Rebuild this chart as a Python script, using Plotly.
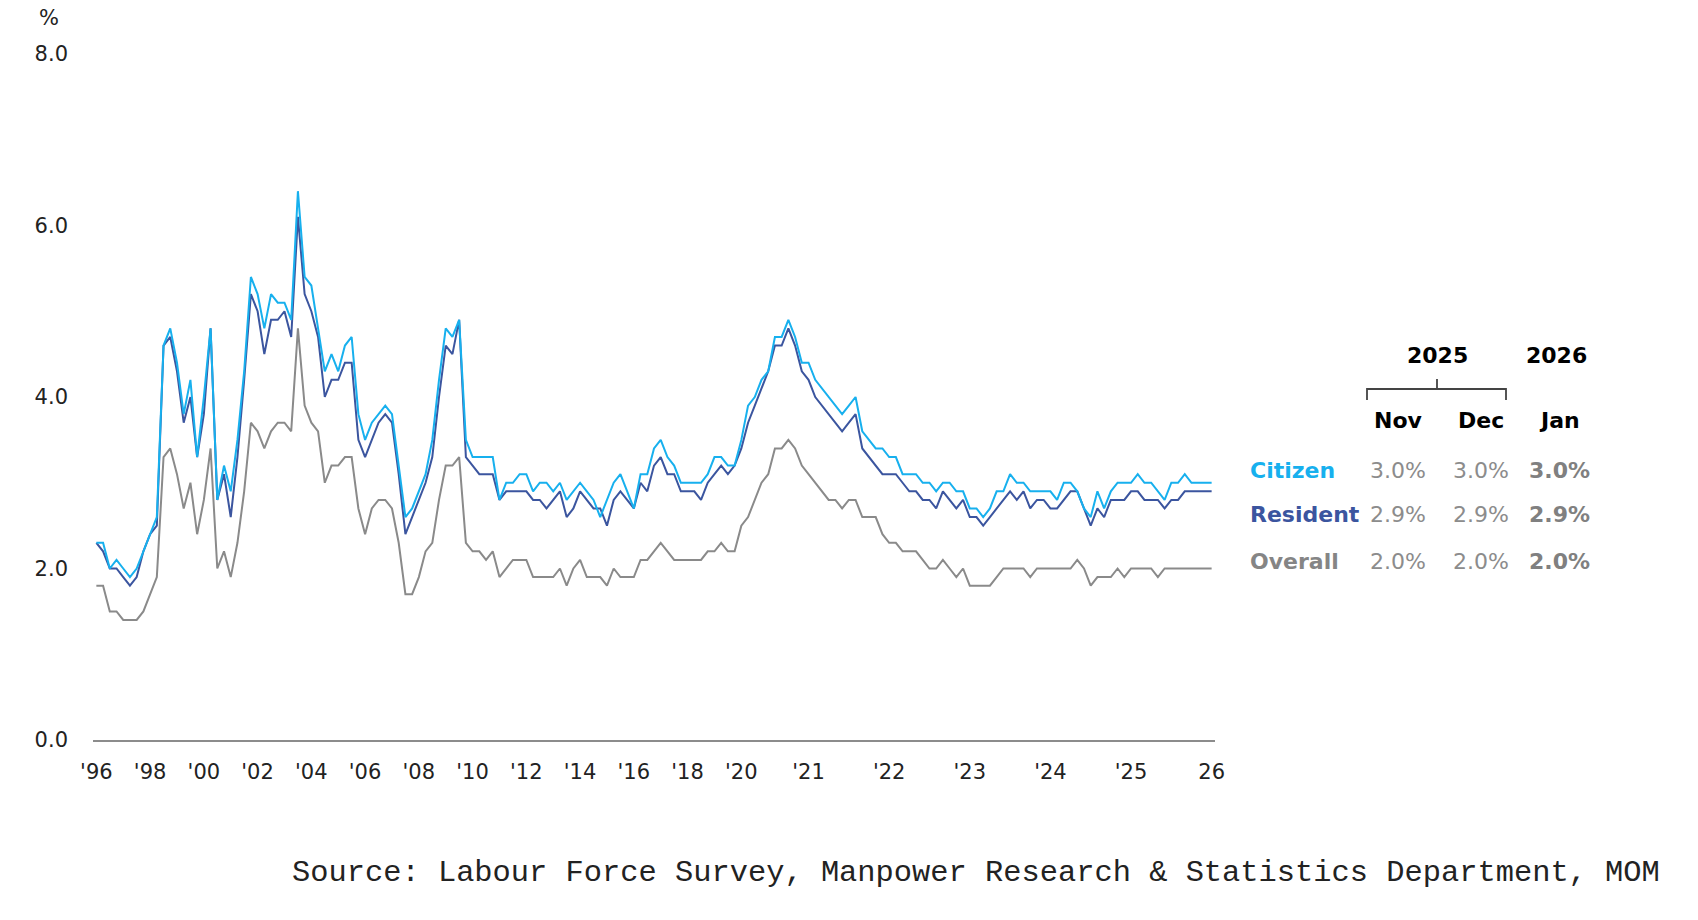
import plotly.graph_objects as go

# ---------------- data ----------------
quarters = [f"{y}Q{q}" for y in range(1996, 2021) for q in range(1, 5)][:97]   # 1996Q1 .. 2020Q1
all_months = [f"{y}-{m:02d}" for y in range(2020, 2027) for m in range(1, 13)]
months = all_months[all_months.index("2020-04"):all_months.index("2026-01") + 1]  # Apr 2020 .. Jan 2026
periods = quarters + months

citizen = [2.3, 2.3, 2.0, 2.1, 2.0, 1.9, 2.0, 2.2, 2.4, 2.6,
           4.6, 4.8, 4.4, 3.8, 4.2, 3.3, 4.0, 4.8, 2.8, 3.2,
           2.9, 3.5, 4.3, 5.4, 5.2, 4.8, 5.2, 5.1, 5.1, 4.9,
           6.4, 5.4, 5.3, 4.8, 4.3, 4.5, 4.3, 4.6, 4.7, 3.8,
           3.5, 3.7, 3.8, 3.9, 3.8, 3.2, 2.6, 2.7, 2.9, 3.1,
           3.5, 4.2, 4.8, 4.7, 4.9, 3.5, 3.3, 3.3, 3.3, 3.3,
           2.8, 3.0, 3.0, 3.1, 3.1, 2.9, 3.0, 3.0, 2.9, 3.0,
           2.8, 2.9, 3.0, 2.9, 2.8, 2.6, 2.8, 3.0, 3.1, 2.9,
           2.7, 3.1, 3.1, 3.4, 3.5, 3.3, 3.2, 3.0, 3.0, 3.0,
           3.0, 3.1, 3.3, 3.3, 3.2, 3.2, 3.5, 3.9, 4.0, 4.2,
           4.3, 4.7, 4.7, 4.9, 4.7, 4.4, 4.4, 4.2, 4.1, 4.0,
           3.9, 3.8, 3.9, 4.0, 3.6, 3.5, 3.4, 3.4, 3.3, 3.3,
           3.1, 3.1, 3.1, 3.0, 3.0, 2.9, 3.0, 3.0, 2.9, 2.9,
           2.7, 2.7, 2.6, 2.7, 2.9, 2.9, 3.1, 3.0, 3.0, 2.9,
           2.9, 2.9, 2.9, 2.8, 3.0, 3.0, 2.9, 2.7, 2.6, 2.9,
           2.7, 2.9, 3.0, 3.0, 3.0, 3.1, 3.0, 3.0, 2.9, 2.8,
           3.0, 3.0, 3.1, 3.0, 3.0, 3.0, 3.0]

resident = [2.3, 2.2, 2.0, 2.0, 1.9, 1.8, 1.9, 2.2, 2.4, 2.5,
            4.6, 4.7, 4.3, 3.7, 4.0, 3.3, 3.8, 4.8, 2.8, 3.1,
            2.6, 3.3, 4.2, 5.2, 5.0, 4.5, 4.9, 4.9, 5.0, 4.7,
            6.1, 5.2, 5.0, 4.7, 4.0, 4.2, 4.2, 4.4, 4.4, 3.5,
            3.3, 3.5, 3.7, 3.8, 3.7, 3.1, 2.4, 2.6, 2.8, 3.0,
            3.3, 4.0, 4.6, 4.5, 4.9, 3.3, 3.2, 3.1, 3.1, 3.1,
            2.8, 2.9, 2.9, 2.9, 2.9, 2.8, 2.8, 2.7, 2.8, 2.9,
            2.6, 2.7, 2.9, 2.8, 2.7, 2.7, 2.5, 2.8, 2.9, 2.8,
            2.7, 3.0, 2.9, 3.2, 3.3, 3.1, 3.1, 2.9, 2.9, 2.9,
            2.8, 3.0, 3.1, 3.2, 3.1, 3.2, 3.4, 3.7, 3.9, 4.1,
            4.3, 4.6, 4.6, 4.8, 4.6, 4.3, 4.2, 4.0, 3.9, 3.8,
            3.7, 3.6, 3.7, 3.8, 3.4, 3.3, 3.2, 3.1, 3.1, 3.1,
            3.0, 2.9, 2.9, 2.8, 2.8, 2.7, 2.9, 2.8, 2.7, 2.8,
            2.6, 2.6, 2.5, 2.6, 2.7, 2.8, 2.9, 2.8, 2.9, 2.7,
            2.8, 2.8, 2.7, 2.7, 2.8, 2.9, 2.9, 2.7, 2.5, 2.7,
            2.6, 2.8, 2.8, 2.8, 2.9, 2.9, 2.8, 2.8, 2.8, 2.7,
            2.8, 2.8, 2.9, 2.9, 2.9, 2.9, 2.9]

overall = [1.8, 1.8, 1.5, 1.5, 1.4, 1.4, 1.4, 1.5, 1.7, 1.9,
           3.3, 3.4, 3.1, 2.7, 3.0, 2.4, 2.8, 3.4, 2.0, 2.2,
           1.9, 2.3, 2.9, 3.7, 3.6, 3.4, 3.6, 3.7, 3.7, 3.6,
           4.8, 3.9, 3.7, 3.6, 3.0, 3.2, 3.2, 3.3, 3.3, 2.7,
           2.4, 2.7, 2.8, 2.8, 2.7, 2.3, 1.7, 1.7, 1.9, 2.2,
           2.3, 2.8, 3.2, 3.2, 3.3, 2.3, 2.2, 2.2, 2.1, 2.2,
           1.9, 2.0, 2.1, 2.1, 2.1, 1.9, 1.9, 1.9, 1.9, 2.0,
           1.8, 2.0, 2.1, 1.9, 1.9, 1.9, 1.8, 2.0, 1.9, 1.9,
           1.9, 2.1, 2.1, 2.2, 2.3, 2.2, 2.1, 2.1, 2.1, 2.1,
           2.1, 2.2, 2.2, 2.3, 2.2, 2.2, 2.5, 2.6, 2.8, 3.0,
           3.1, 3.4, 3.4, 3.5, 3.4, 3.2, 3.1, 3.0, 2.9, 2.8,
           2.8, 2.7, 2.8, 2.8, 2.6, 2.6, 2.6, 2.4, 2.3, 2.3,
           2.2, 2.2, 2.2, 2.1, 2.0, 2.0, 2.1, 2.0, 1.9, 2.0,
           1.8, 1.8, 1.8, 1.8, 1.9, 2.0, 2.0, 2.0, 2.0, 1.9,
           2.0, 2.0, 2.0, 2.0, 2.0, 2.0, 2.1, 2.0, 1.8, 1.9,
           1.9, 1.9, 2.0, 1.9, 2.0, 2.0, 2.0, 2.0, 1.9, 2.0,
           2.0, 2.0, 2.0, 2.0, 2.0, 2.0, 2.0]

tick_periods = ["1996Q1", "1998Q1", "2000Q1", "2002Q1", "2004Q1", "2006Q1", "2008Q1",
                "2010Q1", "2012Q1", "2014Q1", "2016Q1", "2018Q1", "2020Q1",
                "2021-01", "2022-01", "2023-01", "2024-01", "2025-01", "2026-01"]
tick_labels = ["'96", "'98", "'00", "'02", "'04", "'06", "'08", "'10", "'12", "'14",
               "'16", "'18", "'20", "'21", "'22", "'23", "'24", "'25", "26"]
y_ticks = [0, 2, 4, 6, 8]
y_tick_labels = ["0.0", "2.0", "4.0", "6.0", "8.0"]

table_years = ["2025", "2026"]
table_months = ["Nov", "Dec", "Jan"]
table_series = ["Citizen", "Resident", "Overall"]
table_values = [["3.0%", "3.0%", "3.0%"],
                ["2.9%", "2.9%", "2.9%"],
                ["2.0%", "2.0%", "2.0%"]]
source_text = "Source: Labour Force Survey, Manpower Research & Statistics Department, MOM"

# ---------------- styling ----------------
W, H = 1698, 920
L, R, T, B = 93, 1215, 54, 740
C_CIT = "#17b0ee"
C_RES = "#3b559f"
C_OVR = "#8a8a8a"
FONT = "DejaVu Sans"


def px(x):
    return (x - L) / (R - L)


def py(y):
    return (B - y) / (B - T)


fig = go.Figure()
for name, vals, col in [("Overall", overall, C_OVR), ("Resident", resident, C_RES), ("Citizen", citizen, C_CIT)]:
    fig.add_trace(go.Scatter(x=periods, y=vals, mode="lines", name=name,
                             line=dict(color=col, width=2), showlegend=False))

ann = []
ann.append(dict(x=px(49), y=py(18), text="%", showarrow=False, xref="paper", yref="paper",
                xanchor="center", yanchor="middle", font=dict(family=FONT, size=21, color="#222")))

# table header
for txt, cx in zip(table_years, [1437, 1556]):
    ann.append(dict(x=px(cx), y=py(355), text=f"<b>{txt}</b>", showarrow=False, xref="paper", yref="paper",
                    xanchor="center", yanchor="middle", font=dict(family=FONT, size=22, color="#000")))
col_x = [1398, 1481, 1560]
for txt, cx in zip(table_months, col_x):
    ann.append(dict(x=px(cx), y=py(420), text=f"<b>{txt}</b>", showarrow=False, xref="paper", yref="paper",
                    xanchor="center", yanchor="middle", font=dict(family=FONT, size=22, color="#000")))
row_y = [470, 514, 561]
row_col = [C_CIT, C_RES, "#858585"]
for name, ry, rc, vals in zip(table_series, row_y, row_col, table_values):
    ann.append(dict(x=px(1248), y=py(ry), text=f"<b>{name}</b>", showarrow=False, xref="paper", yref="paper",
                    xanchor="left", yanchor="middle", font=dict(family=FONT, size=22, color=rc)))
    for j, (v, cx) in enumerate(zip(vals, col_x)):
        t = f"<b>{v}</b>" if j == 2 else v
        ann.append(dict(x=px(cx), y=py(ry), text=t, showarrow=False, xref="paper", yref="paper",
                        xanchor="center", yanchor="middle",
                        font=dict(family=FONT, size=22, color="#8c8c8c" if j < 2 else "#808080")))

ann.append(dict(x=px(1662), y=py(873), text=source_text, showarrow=False, xref="paper", yref="paper",
                xanchor="right", yanchor="middle", font=dict(family="Liberation Mono", size=30.4, color="#222")))

bracket = (f"M {px(1367)},{py(400)} L {px(1367)},{py(389)} L {px(1506)},{py(389)} L {px(1506)},{py(400)} "
           f"M {px(1437)},{py(389)} L {px(1437)},{py(379)}")

fig.update_layout(
    width=W, height=H,
    margin=dict(l=L, r=W - R, t=T, b=H - B, pad=0),
    paper_bgcolor="white", plot_bgcolor="white",
    font=dict(family=FONT, size=21, color="#222"),
    xaxis=dict(type="category", categoryorder="array", categoryarray=periods,
               range=[-0.5, len(periods) - 0.5],
               tickmode="array", tickvals=tick_periods, ticktext=tick_labels,
               showgrid=False, zeroline=False, showline=True, linecolor="#8c8c8c", linewidth=2,
               ticks="", ticklabelstandoff=12, tickangle=0,
               tickfont=dict(family=FONT, size=21, color="#222")),
    yaxis=dict(range=[0, 8], tickmode="array", tickvals=y_ticks, ticktext=y_tick_labels,
               showgrid=False, zeroline=False, showline=False, ticks="",
               ticklabelstandoff=24, tickfont=dict(family=FONT, size=21, color="#222")),
    annotations=ann,
    shapes=[dict(type="path", path=bracket, xref="paper", yref="paper",
                 line=dict(color="#444", width=1.8))],
)

fig.write_html("out.html")
